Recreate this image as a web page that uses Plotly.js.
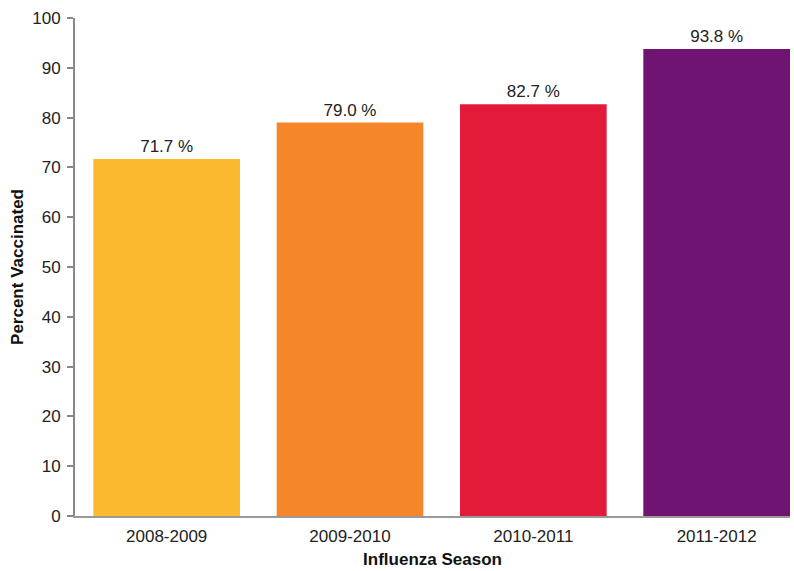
<!DOCTYPE html>
<html>
<head>
<meta charset="utf-8">
<script src="https://cdn.plot.ly/plotly-3.0.1.min.js"></script>
<style>
html,body{margin:0;padding:0;overflow:hidden;background:#fff;}
#chart{width:794px;height:571px;}
</style>
</head>
<body>
<div id="chart"></div>
<script>
const seasons = ["2008-2009", "2009-2010", "2010-2011", "2011-2012"];
const percentVaccinated = [71.7, 79.0, 82.7, 93.8];
const barColors = ["#FBB930", "#F5862A", "#E31B3B", "#6F1470"];
const yTicks = [0, 10, 20, 30, 40, 50, 60, 70, 80, 90, 100];

const trace = {
  type: "bar",
  x: seasons,
  y: percentVaccinated,
  marker: {color: barColors, line: {width: 0}},
  text: percentVaccinated.map(v => v.toFixed(1) + " %"),
  textposition: "outside",
  textfont: {family: "Liberation Sans, Arial, sans-serif", size: 17, color: "#222"},
  cliponaxis: false,
  hoverinfo: "skip"
};

const layout = {
  width: 794,
  height: 571,
  margin: {l: 75, r: 4, t: 18, b: 55},
  paper_bgcolor: "#fff",
  plot_bgcolor: "#fff",
  font: {family: "Liberation Sans, Arial, sans-serif", size: 17, color: "#222"},
  bargap: 0.2,
  showlegend: false,
  xaxis: {
    type: "category",
    range: [-0.5, 3.4],
    showline: true,
    linecolor: "#999",
    linewidth: 2,
    ticks: "",
    showgrid: false,
    zeroline: false,
    tickfont: {size: 17, color: "#222"},
    ticklabelstandoff: 4,
    title: {text: "<b>Influenza Season</b>", font: {size: 17, color: "#111"}, standoff: 8}
  },
  yaxis: {
    range: [0, 100],
    tickvals: yTicks,
    showline: true,
    linecolor: "#888",
    linewidth: 2,
    ticks: "outside",
    ticklen: 6,
    tickwidth: 2,
    tickcolor: "#888",
    showgrid: false,
    zeroline: false,
    tickfont: {size: 17, color: "#222"},
    ticklabelstandoff: 3,
    title: {text: "<b>Percent Vaccinated</b>", font: {size: 17, color: "#111"}, standoff: 4}
  }
};

Plotly.newPlot("chart", [trace], layout, {displayModeBar: false, staticPlot: true});
</script>
</body>
</html>
